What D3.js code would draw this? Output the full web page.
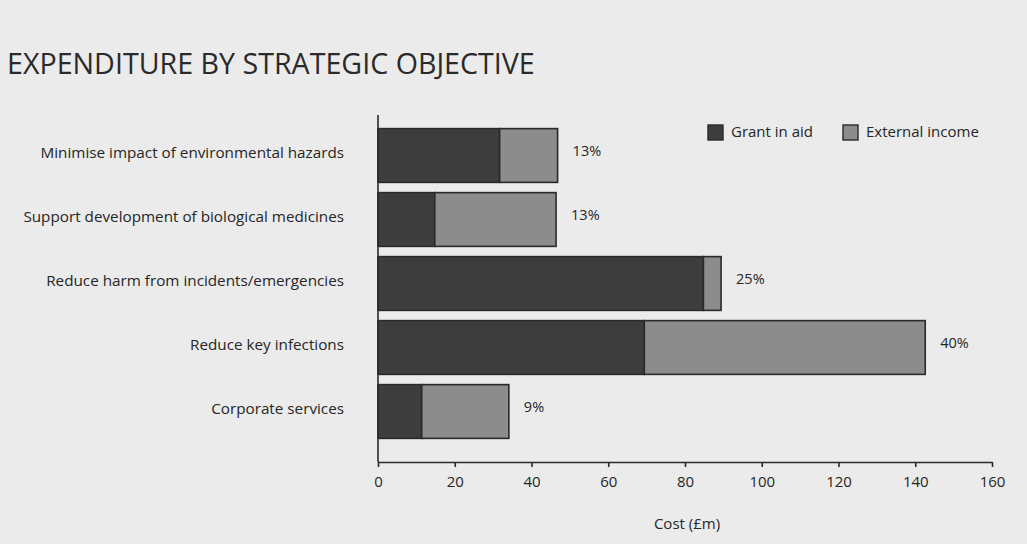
<!DOCTYPE html>
<html>
<head>
<meta charset="utf-8">
<script src="https://cdn.jsdelivr.net/npm/d3@7"></script>
<style>
  html, body { margin: 0; padding: 0; background: #ebebeb; }
  svg { display: block; }
  text { font-family: "Open Sans", "Noto Sans", sans-serif; fill: #262626; }
</style>
</head>
<body>
<svg id="chart" width="1027" height="544"></svg>
<script>
const title = "EXPENDITURE BY STRATEGIC OBJECTIVE";
const categories = [
  "Minimise impact of environmental hazards",
  "Support development of biological medicines",
  "Reduce harm from incidents/emergencies",
  "Reduce key infections",
  "Corporate services"
];
const grantInAid = [31.7, 14.8, 84.8, 69.4, 11.4];
const externalIncome = [15.1, 31.6, 4.6, 73.2, 22.7];
const shareLabels = ["13%", "13%", "25%", "40%", "9%"];
const seriesNames = ["Grant in aid", "External income"];
const xTicks = [0, 20, 40, 60, 80, 100, 120, 140, 160];
const xAxisTitle = "Cost (£m)";

const colors = ["#3d3d3d", "#8c8c8c"];
const outline = "#2a2a2a";

const svg = d3.select("#chart");
svg.append("rect").attr("width", 1027).attr("height", 544).attr("fill", "#ebebeb");

// Title, fitted to the reference width
const t = svg.append("text")
  .attr("x", 7).attr("y", 74)
  .style("font-size", "26px")
  .style("font-weight", "500")
  .style("fill", "#2a2a2a")
  .text(title);
const tw = t.node().getComputedTextLength();
t.style("font-size", (26 * 528 / tw) + "px");

const x = d3.scaleLinear().domain([0, 160]).range([378, 992]);
const y = d3.scaleBand().domain(categories).range([123.5, 443.5])
  .paddingInner(0.16).paddingOuter(0.08);

const rows = categories.map((c, i) => ({
  cat: c, g: grantInAid[i], e: externalIncome[i], share: shareLabels[i]
}));
const stack = d3.stack().keys(["g", "e"])(rows);

// Bars
svg.append("g").selectAll("g").data(stack).join("g")
  .attr("fill", (d, i) => colors[i])
  .selectAll("rect").data(d => d).join("rect")
  .attr("x", d => x(d[0]))
  .attr("y", d => y(d.data.cat))
  .attr("width", d => x(d[1]) - x(d[0]))
  .attr("height", y.bandwidth())
  .attr("stroke", outline)
  .attr("stroke-width", 1.6);

// Percentage labels
svg.append("g").selectAll("text").data(rows).join("text")
  .attr("x", d => x(d.g + d.e) + 15)
  .attr("y", d => y(d.cat) + y.bandwidth() / 2 - 3)
  .attr("dominant-baseline", "middle")
  .style("font-size", "14.5px")
  .text(d => d.share);

// Category labels
const labs = svg.append("g").selectAll("text").data(categories).join("text")
  .attr("x", 344)
  .attr("y", d => y(d) + y.bandwidth() / 2 - 2)
  .attr("text-anchor", "end")
  .attr("dominant-baseline", "middle")
  .style("font-size", "14px")
  .text(d => d);
const longest = labs.nodes()[1].getComputedTextLength();
labs.style("font-size", (14 * 321 / longest) + "px");

// Y axis line (no ticks)
const yAxis = d3.axisLeft(y).tickSize(0).tickFormat("");
svg.append("g").attr("transform", "translate(378,0)").call(yAxis)
  .call(g => g.select(".domain").attr("d", "M0,115V462").attr("stroke", outline).attr("stroke-width", 1.6));

// X axis
const xAxis = d3.axisBottom(x).tickValues(xTicks).tickSize(5).tickSizeOuter(0).tickPadding(9);
const xg = svg.append("g").attr("transform", "translate(0,462)").call(xAxis);
xg.select(".domain").attr("stroke", outline).attr("stroke-width", 1.6);
xg.selectAll(".tick line").attr("stroke", outline).attr("stroke-width", 1.6);
xg.selectAll(".tick text")
  .style("font-family", "'Open Sans', 'Noto Sans', sans-serif")
  .style("font-size", "15px").attr("fill", "#262626");

svg.append("text")
  .attr("x", 687).attr("y", 525)
  .attr("text-anchor", "middle")
  .attr("dominant-baseline", "middle")
  .style("font-size", "15px")
  .text(xAxisTitle);

// Legend
const legendX = [708, 843];
const leg = svg.append("g").selectAll("g").data(seriesNames).join("g")
  .attr("transform", (d, i) => `translate(${legendX[i]},125)`);
leg.append("rect").attr("width", 15).attr("height", 15)
  .attr("fill", (d, i) => colors[i]).attr("stroke", outline).attr("stroke-width", 1.4);
leg.append("text").attr("x", 23).attr("y", 8)
  .attr("dominant-baseline", "middle")
  .style("font-size", "15px")
  .text(d => d);
</script>
</body>
</html>
